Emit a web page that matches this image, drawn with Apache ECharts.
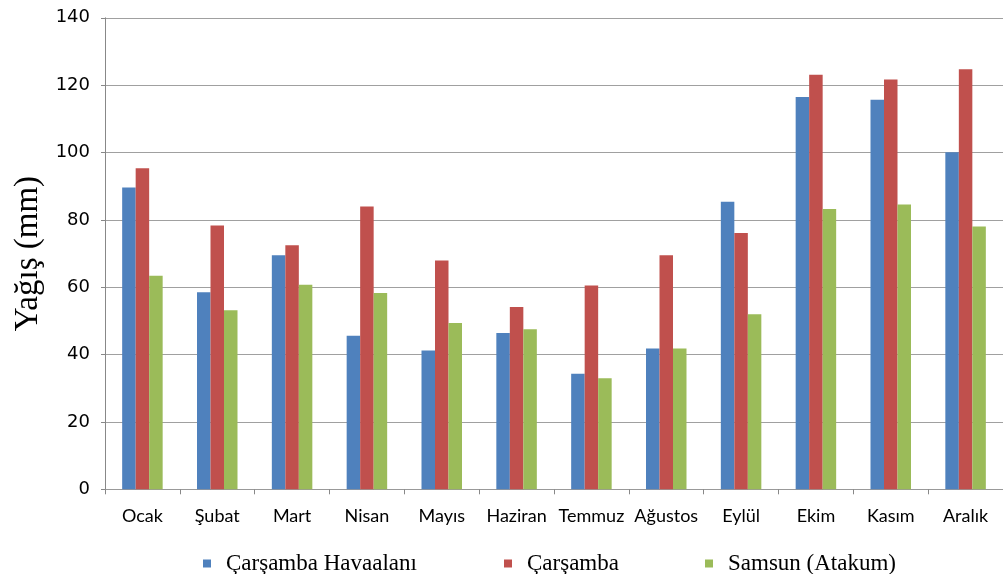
<!DOCTYPE html>
<html>
<head>
<meta charset="utf-8">
<script src="https://cdn.jsdelivr.net/npm/echarts@6/dist/echarts.min.js"></script>
<style>html,body{margin:0;padding:0;background:#fff}#c{width:1003px;height:574px}</style>
</head>
<body>
<div id="c"></div>
<script>
const categories = ["Ocak","Şubat","Mart","Nisan","Mayıs","Haziran","Temmuz","Ağustos","Eylül","Ekim","Kasım","Aralık"];
const havaalani = [89.6, 58.5, 69.5, 45.6, 41.2, 46.4, 34.3, 41.8, 85.4, 116.5, 115.7, 100.1];
const carsamba  = [95.3, 78.3, 72.5, 84.0, 67.9, 54.1, 60.5, 69.5, 76.1, 123.1, 121.7, 124.7];
const samsun    = [63.4, 53.2, 60.7, 58.3, 49.4, 47.5, 33.0, 41.8, 52.0, 83.2, 84.6, 78.0];
const seriesNames = ["Çarşamba Havaalanı", "Çarşamba", "Samsun (Atakum)"];
const colors = ["#4F81BD", "#C0504D", "#9BBB59"];
const yTitle = "Yağış (mm)";

const chart = echarts.init(document.getElementById('c'), null, {renderer: 'canvas'});
const legendBase = {
  top: 547, itemWidth: 8, itemHeight: 8, icon: 'rect',
  textStyle: {fontFamily: 'Liberation Serif', fontSize: 23, color: '#000', padding: [0,0,0,10]}
};
chart.setOption({
  animation: false,
  color: colors,
  grid: {left: 105, top: 17.8, right: -3, bottom: 84.7, containLabel: false},
  legend: [
    Object.assign({}, legendBase, {left: 198, data: [seriesNames[0]]}),
    Object.assign({}, legendBase, {left: 499, data: [seriesNames[1]]}),
    Object.assign({}, legendBase, {left: 700, data: [seriesNames[2]]})
  ],
  xAxis: {
    type: 'category', data: categories,
    axisLine: {lineStyle: {color: '#999'}},
    axisTick: {show: true, alignWithLabel: false, length: 5, lineStyle: {color: '#888'}},
    axisLabel: {fontFamily: 'Lato', fontSize: 18, color: '#000', margin: 18, interval: 0}
  },
  yAxis: {
    type: 'value', min: 0, max: 140, interval: 20,
    name: yTitle, nameLocation: 'middle', nameGap: 60, nameRotate: 90,
    nameTextStyle: {fontFamily: 'Liberation Serif', fontSize: 33, color: '#000'},
    axisLine: {show: true, lineStyle: {color: '#888'}},
    axisTick: {show: true, length: 4, lineStyle: {color: '#888'}},
    axisLabel: {fontFamily: 'DejaVu Sans', fontSize: 18, color: '#000', margin: 15},
    splitLine: {lineStyle: {color: '#a0a0a0', width: 1}}
  },
  series: [
    {name: seriesNames[0], type: 'bar', data: havaalani, barWidth: 13.5, barGap: '0%'},
    {name: seriesNames[1], type: 'bar', data: carsamba, barWidth: 13.5, barGap: '0%'},
    {name: seriesNames[2], type: 'bar', data: samsun, barWidth: 13.5, barGap: '0%'}
  ]
});
</script>
</body>
</html>
